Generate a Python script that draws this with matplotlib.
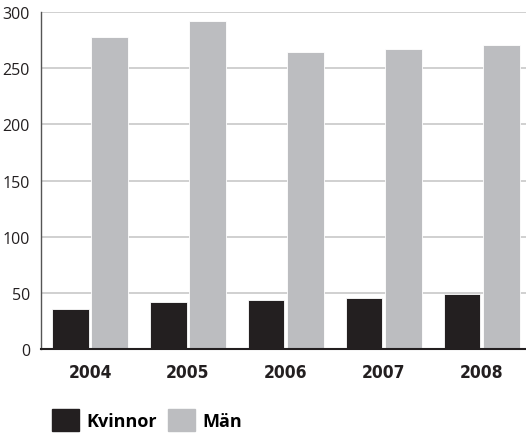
import numpy as np
import matplotlib.pyplot as plt
from matplotlib.patches import Patch

years = ["2004", "2005", "2006", "2007", "2008"]
kvinnor = [36, 42, 44, 45, 49]
man = [278, 292, 264, 267, 271]
yticks = [0, 50, 100, 150, 200, 250, 300]

dark = "#231f20"
grey = "#bcbdc0"

fig = plt.figure(figsize=(5.26, 4.35), dpi=100)
ax = fig.add_axes([0.078, 0.1954, 0.922, 0.7747])

x = np.arange(len(years))
w = 0.37
ax.bar(x - 0.2, kvinnor, w, color=dark, edgecolor="white", linewidth=0.6, zorder=3)
ax.bar(x + 0.2, man, w, color=grey, edgecolor="white", linewidth=0.6, zorder=3)

ax.set_xlim(-0.5, 4.45)
ax.set_ylim(0, 300)
ax.set_yticks(yticks)
ax.set_xticks(x)
ax.set_xticklabels(years, family="DejaVu Sans", fontstretch="condensed",
                   fontweight="bold", fontsize=12.5, color=dark)
ax.set_yticklabels([str(t) for t in yticks], family="Open Sans", fontsize=11.5, color=dark)
ax.tick_params(length=0)
ax.tick_params(axis="y", pad=8)
ax.tick_params(axis="x", pad=10)
ax.yaxis.grid(True, color="#c8c8c8", linewidth=1.2, zorder=0)
for s in ["top", "right"]:
    ax.spines[s].set_visible(False)
ax.spines["left"].set_color("#555555")
ax.spines["left"].set_linewidth(1)
ax.spines["bottom"].set_color(dark)
ax.spines["bottom"].set_linewidth(1.5)
ax.spines["bottom"].set_zorder(4)

handles = [Patch(color=dark, label="Kvinnor"), Patch(color=grey, label="Män")]
fig.legend(handles=handles, loc="lower left", bbox_to_anchor=(0.068, -0.03), ncol=2,
           frameon=False, handlelength=1.5, handleheight=1.5, handletextpad=0.4,
           columnspacing=0.6, prop={"family": "Open Sans", "weight": "bold", "size": 13})

fig.savefig("out.png", dpi=100)
